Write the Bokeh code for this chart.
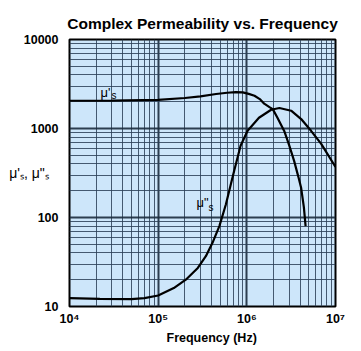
from bokeh.plotting import figure
from bokeh.models import Label, Title, FixedTicker
from bokeh.embed import file_html
from bokeh.resources import INLINE

# ---- data ----
mu_p_freq = [1e4, 3e4, 1e5, 2e5, 3e5, 4.5e5, 6e5, 7.5e5, 9e5, 1.05e6, 1.22e6, 1.4e6,
             1.57e6, 1.8e6, 1.96e6, 2.2e6, 2.64e6, 3e6, 3.42e6, 3.8e6, 4.1e6, 4.4e6, 4.6e6]
mu_p_vals = [2050, 2060, 2100, 2200, 2300, 2440, 2520, 2560, 2545, 2450, 2330, 2140,
             1900, 1740, 1650, 1340, 940, 650, 430, 290, 214, 130, 80]

mu_pp_freq = [1e4, 2.2e4, 5e4, 7e4, 1e5, 1.5e5, 2.05e5, 2.8e5, 3.45e5, 4.1e5, 4.9e5, 5.8e5,
              6.6e5, 7.2e5, 8.5e5, 1.02e6, 1.37e6, 1.88e6, 2.33e6, 3.16e6, 4.1e6, 5.3e6, 6.9e6, 1e7]
mu_pp_vals = [12.4, 12.2, 12.1, 12.4, 13.3, 16.1, 20.0, 27.1, 36.7, 51.9, 80, 140,
              237, 335, 640, 942, 1320, 1625, 1700, 1585, 1276, 942, 673, 370]

x_ticks = [1e4, 1e5, 1e6, 1e7]
x_tick_labels = ["10⁴", "10⁵", "10⁶", "10⁷"]
y_ticks = [10, 100, 1000, 10000]
y_tick_labels = ["10", "100", "1000", "10000"]
minor_mult = [2, 3, 4, 5, 6, 7, 8, 9]

title_text = "Complex Permeability vs. Frequency"
x_title = "Frequency (Hz)"
y_title = "μ'ₛ, μ\"ₛ"

FONT = "Liberation Sans"

p = figure(frame_width=266, frame_height=267, x_axis_type="log", y_axis_type="log",
           x_range=(1e4, 1e7), y_range=(10, 10000),
           output_backend="svg", toolbar_location=None,
           min_border_left=69, min_border_right=26, min_border_top=39, min_border_bottom=45,
           background_fill_color="#cde6fa", border_fill_color="white")

p.title.text = title_text
p.title.text_font = FONT
p.title.text_font_size = "15.5px"
p.title.text_font_style = "bold"
p.title.align = "center"
p.title.offset = -2
p.title.text_color = "black"
p.title.standoff = 15

p.outline_line_color = "black"
p.outline_line_width = 2

x_minor = [m * t for t in x_ticks[:-1] for m in minor_mult]
y_minor = [m * t for t in y_ticks[:-1] for m in minor_mult]
p.xaxis.ticker = FixedTicker(ticks=x_ticks, minor_ticks=x_minor)
p.yaxis.ticker = FixedTicker(ticks=y_ticks, minor_ticks=y_minor)

for g in (p.xgrid, p.ygrid):
    g.grid_line_color = "#1b2b3d"
    g.grid_line_width = 2
    g.grid_line_alpha = 0.9
    g.minor_grid_line_color = "#2c4057"
    g.minor_grid_line_width = 1
    g.minor_grid_line_alpha = 0.85

for ax in (p.xaxis, p.yaxis):
    ax.axis_line_color = None
    ax.major_tick_line_color = None
    ax.minor_tick_line_color = None
    ax.major_tick_out = 0
    ax.major_tick_in = 0
    ax.minor_tick_out = 0
    ax.major_label_text_font = FONT
    ax.major_label_text_font_size = "12.5px"
    ax.major_label_text_font_style = "bold"
    ax.major_label_text_color = "black"

p.xaxis.major_label_overrides = dict(zip(x_ticks, x_tick_labels))
p.yaxis.major_label_overrides = dict(zip(y_ticks, y_tick_labels))
p.xaxis.major_label_standoff = 5
p.yaxis.major_label_standoff = 11

# y-axis title, horizontal, tucked in between the tick labels
p.yaxis.axis_label = y_title
p.yaxis.axis_label_orientation = "horizontal"
p.yaxis.axis_label_text_font = FONT
p.yaxis.axis_label_text_font_size = "14px"
p.yaxis.axis_label_text_font_style = "normal"
p.yaxis.axis_label_text_color = "black"
p.yaxis.axis_label_standoff = -28

# x-axis title
xt = Title(text=x_title, align="left", offset=97, standoff=0,
           text_font=FONT, text_font_size="12.5px", text_font_style="bold",
           text_color="black")
p.add_layout(xt, "below")

p.line(mu_p_freq, mu_p_vals, line_color="black", line_width=2.2)
p.line(mu_pp_freq, mu_pp_vals, line_color="black", line_width=2.2)

def lab(x, y, text, size="13px"):
    # x, y in screen pixels relative to the frame's bottom-left corner
    p.add_layout(Label(x=x, y=y, x_units="screen", y_units="screen", text=text,
                       text_font=FONT, text_font_size=size,
                       text_color="black", text_baseline="alphabetic"))

# curve labels
lab(31, 214, "μ'")
lab(42, 211, "s", size="10px")
lab(127, 104, "μ\"")
lab(139, 99, "s", size="10px")

open("out.html", "w").write(file_html(p, INLINE))
